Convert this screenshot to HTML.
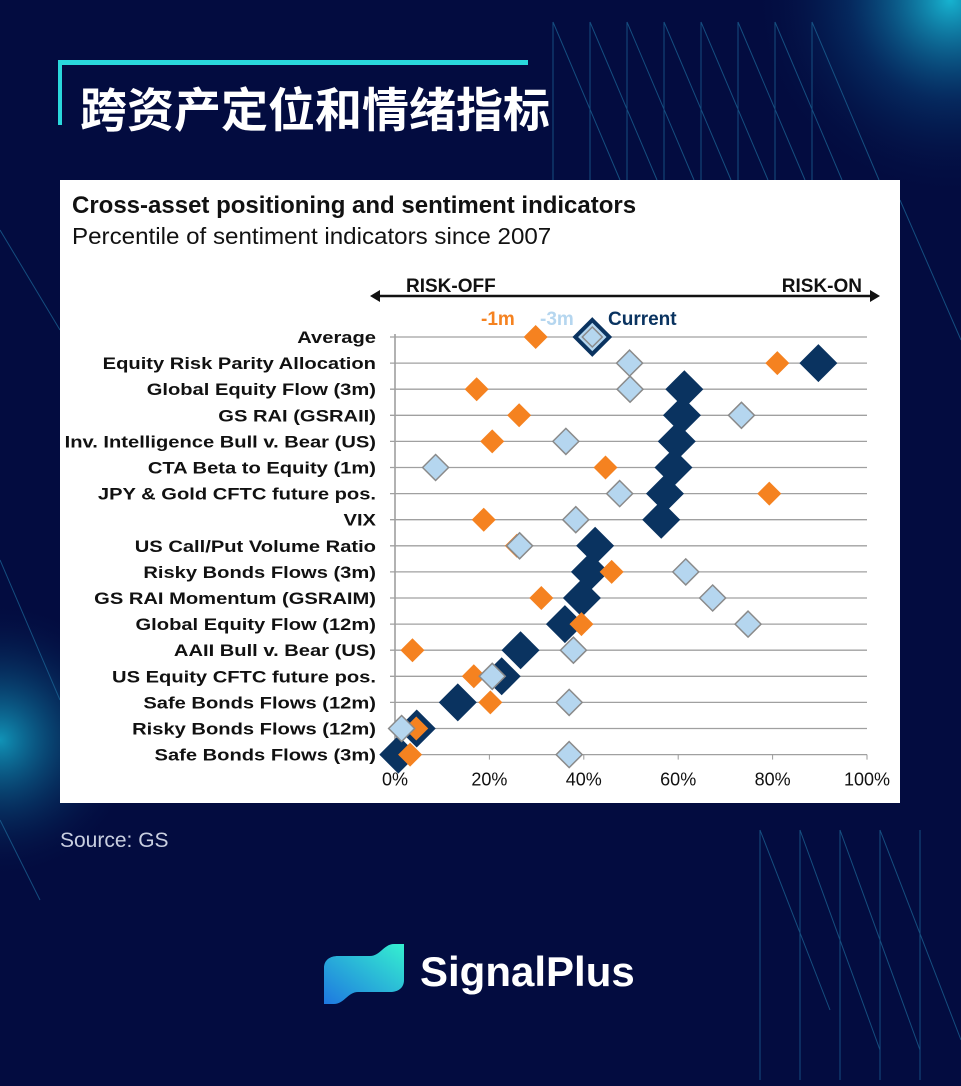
<!DOCTYPE html>
<html><head><meta charset="utf-8">
<style>
html,body{margin:0;padding:0}
body{width:961px;height:1086px;overflow:hidden;background:#030c40;position:relative;font-family:"Liberation Sans",sans-serif}
.abs{position:absolute}
</style></head>
<body>
<svg class="abs" width="961" height="1086" style="left:0;top:0">
<defs>
<radialGradient id="g1" cx="950" cy="0" r="200" gradientUnits="userSpaceOnUse"><stop offset="0" stop-color="#19c6e0" stop-opacity="0.9"/><stop offset="0.5" stop-color="#0a5f96" stop-opacity="0.35"/><stop offset="1" stop-color="#030c40" stop-opacity="0"/></radialGradient>
<radialGradient id="g2" cx="0" cy="740" r="140" gradientUnits="userSpaceOnUse"><stop offset="0" stop-color="#14b5d5" stop-opacity="0.8"/><stop offset="1" stop-color="#030c40" stop-opacity="0"/></radialGradient>
</defs>
<rect width="961" height="1086" fill="url(#g1)"/>
<rect width="961" height="1086" fill="url(#g2)"/>
<g stroke="#1d6a9a" stroke-width="1" opacity="0.7" fill="none">
<path d="M553 22V180M553 22L620 180M590 22V180M590 22L657 180M627 22V180M627 22L694 180M664 22V180M664 22L731 180M701 22V180M701 22L768 180M738 22V180M738 22L805 180M775 22V180M775 22L842 180M812 22V180M812 22L879 180"/>
<path d="M900 200L961 340M0 230L60 330M0 560L60 700M0 820L40 900"/>
<path d="M760 830V1080M760 830L830 1010M800 830V1080M800 830L880 1050M840 830V1080M840 830L920 1050M880 830V1080M880 830L961 1040M920 830V1080"/>
</g>
</svg>

<div class="abs" style="left:58px;top:60px;width:470px;height:5px;background:#2ad8dc"></div>
<div class="abs" style="left:58px;top:60px;width:4px;height:65px;background:#2ad8dc"></div>
<div class="abs" style="left:80px;top:72px;color:#fff;font:bold 47px 'Liberation Sans','Noto Sans CJK SC',sans-serif;white-space:nowrap">跨资产定位和情绪指标</div>

<div class="abs" style="left:60px;top:180px;width:840px;height:623px;background:#fff"></div>
<div class="abs" style="left:72px;top:192px;font:bold 24px 'Liberation Sans',sans-serif;color:#111;white-space:nowrap">Cross-asset positioning and sentiment indicators</div>
<div class="abs" style="left:72px;top:223px;font:23px 'Liberation Sans',sans-serif;color:#111;white-space:nowrap;transform:scaleX(1.05);transform-origin:left">Percentile of sentiment indicators since 2007</div>

<svg class="abs" id="chart" width="961" height="1086" style="left:0;top:0"></svg>

<div class="abs" style="left:60px;top:829px;font:21px 'Liberation Sans',sans-serif;color:#c9cfe0">Source: GS</div>

<svg class="abs" width="90" height="70" style="left:320px;top:940px">
<defs><linearGradient id="lg2" x1="0" y1="1" x2="1" y2="0"><stop offset="0" stop-color="#1e78e0"/><stop offset="1" stop-color="#35f0d0"/></linearGradient></defs>
<path d="M4 28 C4 20 10 16 18 16 H50 C60 16 64 4 74 4 H84 V40 C84 48 78 52 70 52 H38 C28 52 24 64 14 64 H4 Z" fill="url(#lg2)"/>
</svg>
<div class="abs" style="left:420px;top:948px;color:#fff;font:bold 42px 'Liberation Sans',sans-serif">SignalPlus</div>

<script>
const categories=["Average","Equity Risk Parity Allocation","Global Equity Flow (3m)","GS RAI (GSRAII)","Inv. Intelligence Bull v. Bear (US)","CTA Beta to Equity (1m)","JPY & Gold CFTC future pos.","VIX","US Call/Put Volume Ratio","Risky Bonds Flows (3m)","GS RAI Momentum (GSRAIM)","Global Equity Flow (12m)","AAII Bull v. Bear (US)","US Equity CFTC future pos.","Safe Bonds Flows (12m)","Risky Bonds Flows (12m)","Safe Bonds Flows (3m)"];
const minus1m=[29.8,81,17.3,26.3,20.6,44.6,79.3,18.8,25.8,45.9,31,39.5,3.7,16.7,20.2,4.5,3.2];
const minus3m=[41.8,49.7,49.8,73.4,36.2,8.6,47.6,38.3,26.4,61.6,67.3,74.8,37.8,20.6,36.9,1.4,36.9];
const current=[41.8,89.7,61.3,60.8,59.7,59,57.2,56.4,42.4,41.3,39.6,36,26.6,22.6,13.3,4.6,0.7];
const ticks=[0,20,40,60,80,100];

const NS="http://www.w3.org/2000/svg";
const svg=document.getElementById('chart');
const x0=395,x1=867,y0=337,dy=26.1;
const xs=v=>x0+(x1-x0)*v/100;
const ys=i=>y0+i*dy;
function mk(t,a){const e=document.createElementNS(NS,t);for(const k in a)e.setAttribute(k,a[k]);svg.appendChild(e);return e;}
const bottom=ys(categories.length-1);
let ax=mk('line',{x1:x0,y1:y0-3,x2:x0,y2:bottom,stroke:'#999','stroke-width':1.5});


categories.forEach((c,i)=>{
  const y=ys(i);
  const g=mk('line',{x1:x0-5,y1:y,x2:x1,y2:y,stroke:'#a0a0a0','stroke-width':1.3});
  
  
  const t=mk('text',{x:376,y:y+6,'text-anchor':'end','font-size':17,'font-weight':'bold','font-family':'Liberation Sans, sans-serif',fill:'#111'});
  t.textContent=c;
  
  
  t.setAttribute('transform',`translate(376 0) scale(1.185 1) translate(-376 0)`);
});
ticks.forEach(v=>{
  const t=mk('text',{x:xs(v),y:bottom+31,'text-anchor':'middle','font-size':18,'font-family':'Liberation Sans, sans-serif',fill:'#111'});
  t.textContent=v+'%';
  
  
  const k=mk('line',{x1:xs(v),y1:bottom,x2:xs(v),y2:bottom+5,stroke:'#999'});
  
  
});
function dia(cx,cy,r,fill,stroke,sw){return mk('path',{d:`M${cx} ${cy-r}L${cx+r} ${cy}L${cx} ${cy+r}L${cx-r} ${cy}Z`,fill:fill,stroke:stroke,'stroke-width':sw});}
current.forEach((v,i)=>{
  let d;
  if(i===0){d=dia(xs(v),ys(i),17,'#b5d6ef','#0a3360',4);}
  else d=dia(xs(v),ys(i),19,'#0a3360','none',0);
  
  
});
minus1m.forEach((v,i)=>{
  const d=dia(xs(v),ys(i),12,'#f58220','none',0);
  
  
});
minus3m.forEach((v,i)=>{
  const d=dia(xs(v),ys(i),i===0?10:13,'#b5d6ef','#8a8a8a',1.5);
  
  
});
let ar=mk('line',{x1:378,y1:296,x2:872,y2:296,stroke:'#111','stroke-width':2.5});


let ah1=mk('path',{d:'M370 296L380 290L380 302Z',fill:'#111'});


let ah2=mk('path',{d:'M880 296L870 290L870 302Z',fill:'#111'});


let ro=mk('text',{x:406,y:292,'font-size':19,'font-weight':'bold','font-family':'Liberation Sans, sans-serif',fill:'#111'});ro.textContent='RISK-OFF';


let rn=mk('text',{x:862,y:292,'text-anchor':'end','font-size':19,'font-weight':'bold','font-family':'Liberation Sans, sans-serif',fill:'#111'});rn.textContent='RISK-ON';


const leg=[['-1m',481,'#f58220'],['-3m',540,'#b5d6ef'],['Current',608,'#0a3360']];
leg.forEach(l=>{
  const t=mk('text',{x:l[1],y:325,'font-size':19,'font-weight':'bold','font-family':'Liberation Sans, sans-serif',fill:l[2]});
  t.textContent=l[0];
  
  
});
</script>
</body></html>
